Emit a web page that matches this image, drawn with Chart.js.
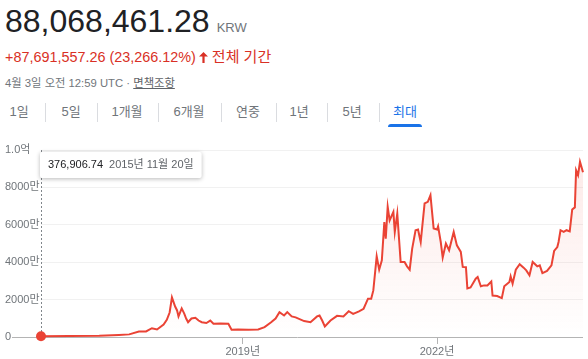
<!DOCTYPE html>
<html lang="ko">
<head>
<meta charset="utf-8">
<script src="https://cdn.jsdelivr.net/npm/chart.js@4.4.1/dist/chart.umd.min.js"></script>
<style>
  body {
    margin: 0; width: 588px; height: 359px; overflow: hidden; position: relative; background: #fff;
    font-family: "Liberation Sans", Arial, "Noto Sans CJK KR", sans-serif;
  }
  .abs { position: absolute; white-space: nowrap; }
  #price { left: 5px; top: 5px; font-size: 32px; line-height: 32px; color: #202124; }
  #price .cur { font-size: 13px; color: #70757a; margin-left: 7px; }
  #change { left: 5px; top: 49px; font-size: 14.4px; line-height: 16px; color: #d93025; }
  #change .period { font-size: 15px; }
  #change svg { vertical-align: -1px; margin: 0 4px 0 3px; }
  #stamp { left: 5px; top: 76px; font-size: 11.3px; line-height: 14px; color: #70757a; }
  #stamp u { color: #5f6368; }
  .tab { top: 102px; font-size: 13px; line-height: 20px; color: #70757a; transform: translateX(-50%); }
  .tab.on { color: #1a73e8; }
  .sep { top: 103px; width: 1px; height: 19px; background: #dadce0; }
  #underline { left: 388px; top: 124px; width: 34px; height: 3px; background: #1a73e8; border-radius: 3px 3px 0 0; }
  #wrap { position: absolute; left: 0; top: 135px; width: 588px; height: 224px; }
</style>
</head>
<body>
<div id="price" class="abs">88,068,461.28<span class="cur">KRW</span></div>
<div id="change" class="abs">+87,691,557.26 (23,266.12%)<svg width="9" height="11" viewBox="0 0 9 11"><path d="M4.5 0 L9 4.6 H5.6 V11 H3.4 V4.6 H0 Z" fill="#d93025"/></svg><span class="period">전체 기간</span></div>
<div id="stamp" class="abs">4월 3일 오전 12:59 UTC · <u>면책조항</u></div>
<div id="tabs"></div>
<div id="underline" class="abs"></div>
<div id="wrap"><canvas id="chart"></canvas></div>
<script>
// range tabs
const tabLabels = ["1일", "5일", "1개월", "6개월", "연중", "1년", "5년", "최대"];
const tabCenters = [19, 71, 127, 189, 248, 299, 352, 405];
const sepX = [45, 97, 158, 221, 276, 327, 379];

// price history (KRW)
const dates = [
  "2015-11-20", "2016-04-29", "2016-10-14", "2017-02-02", "2017-04-01", "2017-05-26", "2017-07-05",
  "2017-08-07", "2017-09-05", "2017-10-12", "2017-10-30", "2017-11-15", "2017-11-28", "2017-12-16",
  "2017-12-27", "2018-01-04", "2018-01-22", "2018-02-06", "2018-02-16", "2018-02-27", "2018-03-18",
  "2018-04-09", "2018-04-27", "2018-05-15", "2018-06-10", "2018-07-02", "2018-07-20", "2018-08-29",
  "2018-10-12", "2018-10-30", "2018-12-05", "2019-02-02", "2019-03-29", "2019-05-04", "2019-06-10",
  "2019-07-05", "2019-07-27", "2019-08-22", "2019-09-09", "2019-10-04", "2019-10-26", "2019-12-13",
  "2020-01-18", "2020-02-24", "2020-03-09", "2020-03-24", "2020-04-08", "2020-05-10", "2020-06-16",
  "2020-07-22", "2020-08-21", "2020-09-15", "2020-10-18", "2020-11-13", "2020-12-08", "2020-12-26",
  "2021-01-07", "2021-01-26", "2021-02-09", "2021-02-24", "2021-03-10", "2021-03-18", "2021-03-29",
  "2021-04-09", "2021-04-30", "2021-05-08", "2021-05-22", "2021-06-10", "2021-07-02", "2021-07-16",
  "2021-07-31", "2021-08-14", "2021-09-02", "2021-09-16", "2021-10-01", "2021-10-23", "2021-11-10",
  "2021-11-25", "2021-12-13", "2022-01-01", "2022-01-07", "2022-01-22", "2022-02-02", "2022-02-20",
  "2022-03-10", "2022-04-05", "2022-04-23", "2022-05-15", "2022-05-26", "2022-06-13", "2022-06-21",
  "2022-07-09", "2022-08-07", "2022-08-18", "2022-09-05", "2022-09-23", "2022-10-12", "2022-11-03",
  "2022-11-10", "2022-12-06", "2023-01-01", "2023-01-15", "2023-02-13", "2023-02-20", "2023-03-03",
  "2023-03-21", "2023-04-12", "2023-05-04", "2023-05-19", "2023-06-06", "2023-06-24", "2023-07-20",
  "2023-08-03", "2023-08-18", "2023-09-13", "2023-10-08", "2023-10-23", "2023-11-10", "2023-11-17",
  "2023-11-28", "2023-12-16", "2024-01-01", "2024-01-19", "2024-02-02", "2024-02-17", "2024-02-24",
  "2024-03-06", "2024-03-17", "2024-04-03"
];
const prices = [
  376906.74, 500000, 700000, 1100000, 1400000, 2900000, 3000000,
  4700000, 4000000, 6700000, 9200000, 13100000, 21200000, 16300000,
  14200000, 11000000, 15300000, 12400000, 9900000, 7900000, 9900000,
  10300000, 8800000, 7900000, 7500000, 8800000, 7100000, 7200000,
  7100000, 3900000, 4000000, 3900000, 4000000, 5300000, 7900000,
  9900000, 13300000, 11500000, 13300000, 11000000, 10500000, 8500000,
  7900000, 11000000, 11500000, 8800000, 5600000, 8800000, 11300000,
  11000000, 13800000, 12400000, 13700000, 15100000, 20500000, 20500000,
  24900000, 43100000, 36000000, 41000000, 61500000, 52600000, 69600000,
  62400000, 66900000, 56200000, 66000000, 40100000, 40100000, 37800000,
  36000000, 47300000, 57100000, 57500000, 50800000, 71400000, 72300000,
  75800000, 58000000, 57500000, 59200000, 50800000, 42500000, 50000000,
  46400000, 56200000, 49000000, 45500000, 37500000, 37300000, 26000000,
  26500000, 31200000, 32100000, 27100000, 27600000, 27600000, 29700000,
  22200000, 21900000, 20800000, 27100000, 29400000, 32400000, 28500000,
  36000000, 38900000, 37100000, 35600000, 33000000, 40100000, 37800000,
  38300000, 34200000, 35300000, 38300000, 46000000, 48100000, 50800000,
  57100000, 56200000, 57100000, 56500000, 68200000, 69300000, 89200000,
  86600000, 93700000, 88068461.28
];
const xTickYears = [2019, 2022];
const yMax = 100000000;
const yStep = 20000000;

const RED = "#ea4335";
const FONT = '"Liberation Sans", Arial, "Noto Sans CJK KR", sans-serif';

// tabs
const tabs = document.getElementById("tabs");
tabLabels.forEach((t, i) => {
  const el = document.createElement("div");
  el.className = "abs tab" + (i === tabLabels.length - 1 ? " on" : "");
  el.style.left = tabCenters[i] + "px";
  el.textContent = t;
  tabs.appendChild(el);
});
sepX.forEach(x => {
  const el = document.createElement("div");
  el.className = "abs sep";
  el.style.left = x + "px";
  tabs.appendChild(el);
});

function toYear(s) {
  const [y, m, d] = s.split("-").map(Number);
  const start = Date.UTC(y, 0, 1), end = Date.UTC(y + 1, 0, 1);
  return y + (Date.UTC(y, m - 1, d) - start) / (end - start);
}
function koDate(s) {
  const [y, m, d] = s.split("-").map(Number);
  return y + "년 " + m + "월 " + d + "일";
}
const points = dates.map((d, i) => ({ x: toYear(d), y: prices[i] }));

// baseline, hover guide and the pinned tooltip
const markerPlugin = {
  id: "marker",
  beforeDatasetsDraw(chart) {
    const { ctx, chartArea, scales: { x, y } } = chart;
    const y0 = Math.round(y.getPixelForValue(0)) + 0.5;
    const px = Math.round(x.getPixelForValue(points[0].x)) + 0.5;
    ctx.save();
    ctx.strokeStyle = "#b4b4b4";
    ctx.lineWidth = 1;
    ctx.beginPath();
    ctx.moveTo(12, y0);
    ctx.lineTo(chartArea.right, y0);
    ctx.stroke();
    ctx.strokeStyle = "#80868b";
    ctx.setLineDash([2, 2]);
    ctx.beginPath();
    ctx.moveTo(px, chartArea.top);
    ctx.lineTo(px, y0);
    ctx.stroke();
    ctx.restore();
  },
  afterDraw(chart) {
    const { ctx, chartArea, scales: { x } } = chart;
    const px = Math.round(x.getPixelForValue(points[0].x));
    const val = prices[0].toLocaleString("en-US", { minimumFractionDigits: 2, maximumFractionDigits: 2 });
    const when = koDate(dates[0]);
    ctx.save();
    ctx.font = "11px " + FONT;
    const w1 = ctx.measureText(val).width;
    const w2 = ctx.measureText(when).width;
    const left = px - 1, top = chartArea.top + 2;
    const w = 8 + w1 + 6 + w2 + 8, h = 26;
    ctx.shadowColor = "rgba(0,0,0,0.28)";
    ctx.shadowBlur = 4;
    ctx.shadowOffsetY = 1;
    ctx.fillStyle = "#fff";
    ctx.beginPath();
    ctx.roundRect(left, top, w, h, 2);
    ctx.fill();
    ctx.shadowColor = "transparent";
    ctx.textBaseline = "middle";
    ctx.fillStyle = "#202124";
    ctx.fillText(val, left + 8, top + h / 2);
    ctx.fillStyle = "#5f6368";
    ctx.fillText(when, left + 8 + w1 + 6, top + h / 2);
    ctx.restore();
  }
};

Chart.defaults.font.family = FONT;
Chart.defaults.font.size = 11;
Chart.defaults.color = "#70757a";

new Chart(document.getElementById("chart"), {
  type: "line",
  data: {
    datasets: [{
      data: points,
      borderColor: RED,
      borderWidth: 2,
      tension: 0,
      clip: false,
      fill: "origin",
      backgroundColor(c) {
        const area = c.chart.chartArea;
        if (!area) return "transparent";
        const g = c.chart.ctx.createLinearGradient(0, area.top, 0, area.bottom);
        g.addColorStop(0, "rgba(234,67,53,0.12)");
        g.addColorStop(1, "rgba(234,67,53,0)");
        return g;
      },
      pointRadius: c => (c.dataIndex === 0 ? 5 : 0),
      pointBackgroundColor: RED,
      pointBorderWidth: 0
    }]
  },
  options: {
    responsive: true,
    maintainAspectRatio: false,
    animation: false,
    events: [],
    layout: { padding: { left: 5, top: 15, right: 0, bottom: 0 } },
    scales: {
      x: {
        type: "linear",
        min: points[0].x,
        max: points[points.length - 1].x,
        afterFit(s) { s.height = 22; },
        afterBuildTicks(s) { s.ticks = xTickYears.map(v => ({ value: v })); },
        border: { display: false },
        grid: { drawOnChartArea: false, drawTicks: true, tickLength: 7, color: "#b4b4b4" },
        ticks: { padding: 1, maxRotation: 0, callback: v => v + "년" }
      },
      y: {
        min: 0,
        max: yMax,
        afterFit(s) { s.width = 36; },
        border: { display: false },
        grid: { drawTicks: false, color: c => (c.tick.value === 0 ? "transparent" : "#f1f1f1") },
        ticks: {
          stepSize: yStep,
          crossAlign: "far",
          padding: 0,
          callback: v => (v === 0 ? "0" : v >= 1e8 ? (v / 1e8).toFixed(1) + "억" : v / 1e4 + "만")
        }
      }
    },
    plugins: { legend: { display: false }, tooltip: { enabled: false } }
  },
  plugins: [markerPlugin]
});
</script>
</body>
</html>
